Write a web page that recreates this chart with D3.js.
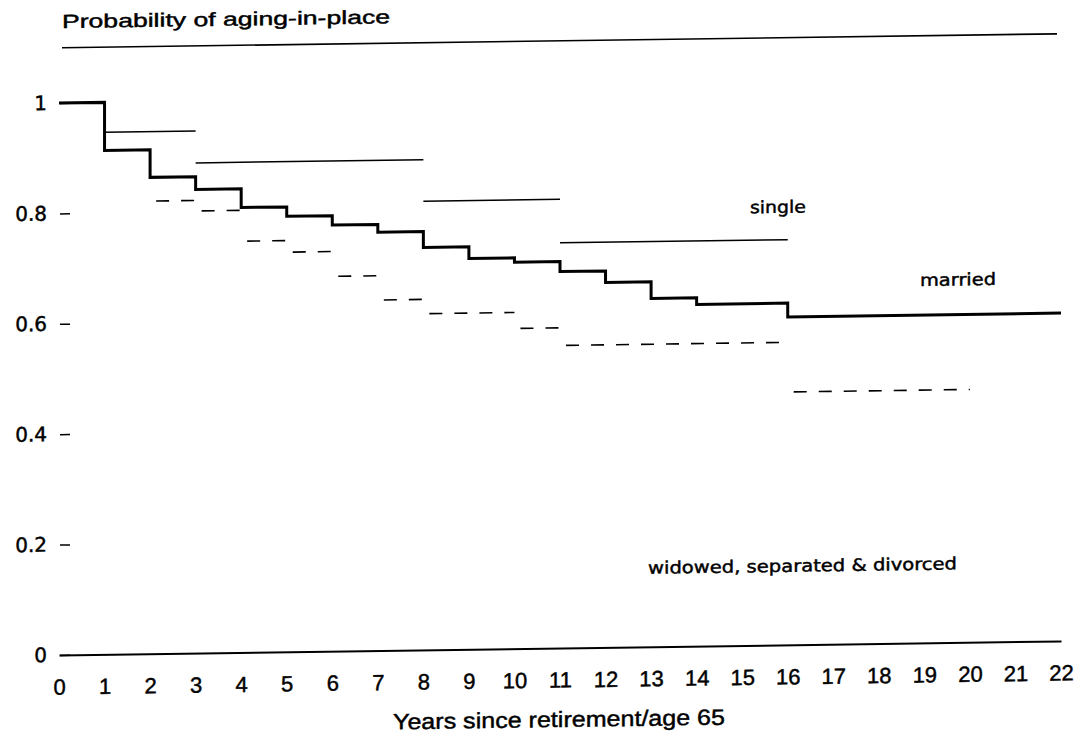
<!DOCTYPE html>
<html>
<head>
<meta charset="utf-8">
<script src="https://cdn.jsdelivr.net/npm/d3@7"></script>
<style>
  body { margin: 0; background: #fff; }
  svg { display: block; }
  text { fill: #000; stroke: #000; stroke-width: 0.45px; }
</style>
</head>
<body>
<div id="chart"></div>
<script>
// step data
var marriedYears = [0, 1, 2, 3, 4, 5, 6, 7, 8, 9, 10, 11, 12, 13, 14, 16, 22];
var marriedProb = [1.0, 0.913, 0.863, 0.840, 0.806, 0.789, 0.772, 0.758, 0.729, 0.708, 0.700, 0.682, 0.661, 0.631, 0.619, 0.594, 0.594];

var singleFrom = [1, 3, 8, 11];
var singleTo = [3, 8, 11, 16];
var singleProb = [0.946, 0.888, 0.813, 0.734];

var widowedFrom = [2, 3, 4, 5, 6, 7, 8, 10, 11, 16];
var widowedTo = [3, 4, 5, 6, 7, 8, 10, 11, 16, 20];
var widowedProb = [0.820, 0.801, 0.745, 0.724, 0.679, 0.635, 0.609, 0.580, 0.548, 0.458];

var xTicks = d3.range(0, 23);
var yTicks = [0, 0.2, 0.4, 0.6, 0.8, 1];

function Plot() {
    var svgWidth = 1087;
    var svgHeight = 736;

    // the scan is slightly skewed: right side sits higher
    var skew = 0.014;

    var svg = d3.select("#chart")
        .append("svg")
        .attr("width", svgWidth)
        .attr("height", svgHeight);

    svg.append("rect")
        .attr("width", svgWidth)
        .attr("height", svgHeight)
        .attr("fill", "#fff");

    var chart = svg.append("g")
        .attr("transform", `translate(0, ${skew * 60}) skewY(${-Math.atan(skew) * 180 / Math.PI})`);

    var x = d3.scaleLinear().domain([0, 22]).range([59, 1061]);
    var y = d3.scaleLinear().domain([0, 1]).range([655, 103]);

    var sans = "Liberation Sans, Arial, Helvetica, sans-serif";

    // top frame line
    chart.append("line")
        .attr("x1", x(0) + 3).attr("x2", x(22) - 4)
        .attr("y1", y(1.1)).attr("y2", y(1.1))
        .attr("stroke", "#000")
        .attr("stroke-width", 1.6);

    // title
    chart.append("text")
        .attr("x", 62)
        .attr("y", 28)
        .attr("font-family", sans)
        .attr("font-size", "19px")
        .attr("textLength", 328)
        .attr("lengthAdjust", "spacingAndGlyphs")
        .text("Probability of aging-in-place");

    // y axis: small ticks pointing right, no domain
    var yAxis = d3.axisLeft(y)
        .tickValues(yTicks)
        .tickFormat(d => d === 0 || d === 1 ? d3.format("d")(d) : d3.format(".1f")(d))
        .tickSizeInner(-10)
        .tickSizeOuter(0)
        .tickPadding(13);

    var gy = chart.append("g")
        .attr("transform", `translate(${x(0) + 1}, 0)`)
        .call(yAxis);
    gy.select(".domain").remove();
    gy.selectAll("line").attr("stroke-width", 1.5);
    gy.selectAll("text")
        .attr("font-family", "DejaVu Sans, sans-serif")
        .attr("font-size", "20px");

    // x axis: baseline at 0, labels below, no tick marks
    var xAxis = d3.axisBottom(x)
        .tickValues(xTicks)
        .tickSize(0)
        .tickPadding(24);

    var gx = chart.append("g")
        .attr("transform", `translate(0, ${y(0)})`)
        .call(xAxis);
    gx.select(".domain").attr("stroke-width", 2);
    gx.selectAll("text")
        .attr("font-family", sans)
        .attr("font-size", "22px");

    chart.append("text")
        .attr("x", 393)
        .attr("y", 734)
        .attr("font-family", sans)
        .attr("font-size", "22px")
        .attr("textLength", 332)
        .attr("lengthAdjust", "spacingAndGlyphs")
        .text("Years since retirement/age 65");

    // married: thick step curve
    var married = marriedYears.map((d, i) => ({ year: d, p: marriedProb[i] }));
    var stepLine = d3.line()
        .x(d => x(d.year))
        .y(d => y(d.p))
        .curve(d3.curveStepAfter);

    chart.append("path")
        .datum(married)
        .attr("d", stepLine)
        .attr("fill", "none")
        .attr("stroke", "#000")
        .attr("stroke-width", 3);

    // single: thin horizontal segments
    chart.selectAll(".single")
        .data(singleProb)
        .enter()
        .append("line")
        .attr("class", "single")
        .attr("x1", (d, i) => x(singleFrom[i]))
        .attr("x2", (d, i) => x(singleTo[i]))
        .attr("y1", d => y(d))
        .attr("y2", d => y(d))
        .attr("stroke", "#000")
        .attr("stroke-width", 1.5);

    // widowed, separated & divorced: dashed segments
    chart.selectAll(".widowed")
        .data(widowedProb)
        .enter()
        .append("line")
        .attr("class", "widowed")
        .attr("x1", (d, i) => x(widowedFrom[i]))
        .attr("x2", (d, i) => x(widowedTo[i]))
        .attr("y1", d => y(d))
        .attr("y2", d => y(d))
        .attr("stroke", "#000")
        .attr("stroke-width", 1.6)
        .attr("stroke-dasharray", "13,12")
        .attr("stroke-dashoffset", -6);

    // series labels
    var labelFont = "DejaVu Sans, Verdana, sans-serif";
    var labels = [
        { text: "single", x: 750, y: 223, len: 56 },
        { text: "married", x: 920, y: 298, len: 76 },
        { text: "widowed, separated & divorced", x: 648, y: 582, len: 309 }
    ];
    chart.selectAll(".series-label")
        .data(labels)
        .enter()
        .append("text")
        .attr("class", "series-label")
        .attr("x", d => d.x)
        .attr("y", d => d.y)
        .attr("font-family", labelFont)
        .attr("font-size", "17px")
        .attr("textLength", d => d.len)
        .attr("lengthAdjust", "spacingAndGlyphs")
        .text(d => d.text);
}

Plot();
</script>
</body>
</html>
